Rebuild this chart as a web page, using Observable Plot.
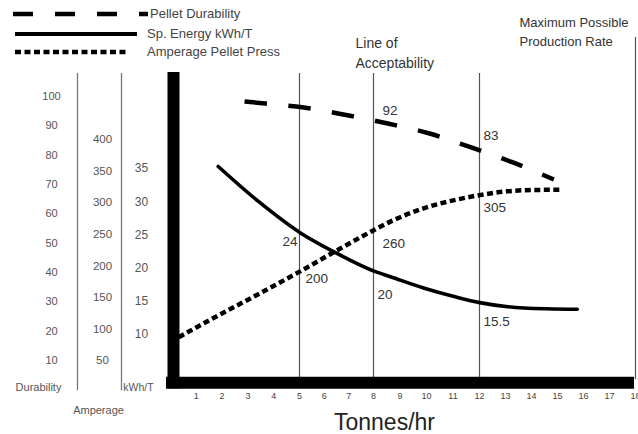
<!DOCTYPE html>
<html><head><meta charset="utf-8">
<script src="https://cdn.jsdelivr.net/npm/d3@7"></script>
<script src="https://cdn.jsdelivr.net/npm/@observablehq/plot@0.6"></script>
<style>
html,body{margin:0;padding:0;background:#fff;}
#wrap{position:relative;width:638px;height:434px;font-family:"Liberation Sans",Arial,sans-serif;}
#legend{position:absolute;left:0;top:0;}
</style></head><body><div id="wrap"><svg id="legend" width="330" height="62"></svg></div>
<script>
// ---- data ----
const seriesNames = ["Pellet Durability", "Sp. Energy kWh/T", "Amperage Pellet Press"];
const durX = [2.87, 3.68, 5.31, 7.0, 8.58, 10.15, 11.66, 13.26, 14.86];
const durY = [98.3, 97.6, 96.1, 93.5, 90.7, 87.3, 82.7, 77.6, 71.7];
const energyX = [1.85, 3.42, 5.04, 6.32, 8.05, 8.64, 9.89, 11.15, 12.01, 13.7, 15.76];
const energyY = [35.3, 30.0, 25.3, 22.6, 19.5, 18.7, 17.0, 15.6, 14.8, 14.0, 13.8];
const ampX = [0.32, 1.74, 3.17, 4.97, 6.32, 8.08, 8.64, 9.89, 11.15, 12.01, 13.06, 14.0, 15.18];
const ampY = [87, 119, 150, 190, 220, 258, 270, 291, 305, 312, 318, 320, 320.5];
const durTicks = [10, 20, 30, 40, 50, 60, 70, 80, 90, 100];
const ampTicks = [50, 100, 150, 200, 250, 300, 350, 400];
const kwhTicks = [10, 15, 20, 25, 30, 35];
const xTicks = [1,2,3,4,5,6,7,8,9,10,11,12,13,14,15,16,17,18];
const refLines = [5, 8, 12];
const maxLine = [18];
const labelText = ["92", "83", "24", "200", "260", "20", "305", "15.5"];
const labelX = [8, 12, 5, 5, 8, 8, 12, 12];
const labelSeries = ["dur", "dur", "kwh", "amp", "amp", "kwh", "amp", "kwh"];

// the three left axes share one vertical scale (durability units)
const ampToY = a => (0.6314 * a - 2.3) / 2.933;
const kwhToY = k => (6.64 * k - 11.1) / 2.933;
const toY = {dur: v => v, amp: ampToY, kwh: kwhToY};

// styles for value labels
const labelStyle = [
  {a: "start", dx: 9, dy: -9.5}, {a: "start", dx: 4, dy: -11}, {a: "end", dx: -2, dy: 0.5},
  {a: "start", dx: 6, dy: 12.7}, {a: "start", dx: 9, dy: 15.6}, {a: "start", dx: 4, dy: 27},
  {a: "start", dx: 4, dy: 8}, {a: "start", dx: 4, dy: 24}
];

const durData = durX.map((x, i) => ({x, y: durY[i]}));
const energyData = energyX.map((x, i) => ({x, y: kwhToY(energyY[i])}));
const ampData = ampX.map((x, i) => ({x, y: ampToY(ampY[i])}));
const labels = labelText.map((t, i) => ({t, x: labelX[i], y: toY[labelSeries[i]](+t), s: labelStyle[i]}));

const FONT = "Liberation Sans, Arial, sans-serif";
const mid = {textAnchor: "middle"};
const marks = [
  // left axis separators
  Plot.ruleX([0], {dx: -93, insetTop: -23, insetBottom: -1, stroke: "#777", strokeWidth: 1.3}),
  Plot.ruleX([0], {dx: -49, insetTop: -23, insetBottom: -1, stroke: "#777", strokeWidth: 1.3}),
  Plot.text(durTicks, {...mid, y: d => d, text: d => String(d), frameAnchor: "left", dx: -119, fontSize: 11, fill: "#555"}),
  Plot.text(ampTicks, {...mid, y: ampToY, text: d => String(d), frameAnchor: "left", dx: -68, fontSize: 11.5, fill: "#555"}),
  Plot.text(kwhTicks, {...mid, y: kwhToY, text: d => String(d), frameAnchor: "left", dx: -29, fontSize: 12, fill: "#555"}),
  Plot.text(["Durability"], {...mid, frameAnchor: "bottom-left", dx: -132, dy: 1, fontSize: 11, fill: "#555"}),
  Plot.text(["kWh/T"], {...mid, frameAnchor: "bottom-left", dx: -32, dy: 1, fontSize: 10.5, fill: "#555"}),
  Plot.text(["Amperage"], {...mid, frameAnchor: "bottom-left", dx: -72, dy: 24, fontSize: 11, fill: "#555"}),
  // reference lines
  Plot.ruleX(refLines, {insetTop: -23, insetBottom: 10, stroke: "#555", strokeWidth: 1.2}),
  Plot.ruleX(maxLine, {insetTop: -59, insetBottom: 10, stroke: "#555", strokeWidth: 1.2}),
  Plot.text(["Line of\nAcceptability"], {x: 8, frameAnchor: "top", textAnchor: "start", dx: -18, dy: -63, lineHeight: 1.45, fontSize: 14, fill: "#333"}),
  Plot.text(["Maximum Possible\nProduction Rate"], {x: 18, frameAnchor: "top", textAnchor: "start", dx: -116, dy: -83.5, lineHeight: 1.5, fontSize: 13, fill: "#333"}),
  // curves
  Plot.line(durData, {x: "x", y: "y", curve: "monotone-x", stroke: "#000", strokeWidth: 4.5, strokeDasharray: "22.5 21.5", strokeLinecap: "butt"}),
  Plot.line(energyData, {x: "x", y: "y", curve: "monotone-x", stroke: "#000", strokeWidth: 3.6}),
  Plot.line(ampData, {x: "x", y: "y", curve: "monotone-x", stroke: "#000", strokeWidth: 4.5, strokeDasharray: "6 3.5", strokeLinecap: "butt"}),
  // value labels
  ...labels.map(l => Plot.text([l], {x: "x", y: "y", text: "t", textAnchor: l.s.a, dx: l.s.dx, dy: l.s.dy, fontSize: 13.5, fill: "#333"})),
  // heavy axis bars
  Plot.ruleX([0], {dx: 3, insetTop: -24, insetBottom: 1, stroke: "#000", strokeWidth: 12}),
  Plot.ruleY([0], {dy: -7, insetLeft: -4, insetRight: 1, stroke: "#000", strokeWidth: 12}),
  // x tick labels and title
  Plot.text(xTicks, {x: d => d, text: d => String(d), frameAnchor: "bottom", dy: 9, fontSize: 9, fill: "#444"}),
  Plot.text(["Tonnes/hr"], {frameAnchor: "bottom", dx: -18.5, dy: 40, fontSize: 23, fill: "#222"})
];

const chart = Plot.plot({
  width: 638, height: 434,
  marginLeft: 170, marginRight: 3, marginTop: 96, marginBottom: 44.7,
  x: {type: "linear", domain: [0, 5, 8, 12, 18], range: [170, 299, 373, 479, 635], axis: null},
  y: {domain: [0, 100], axis: null},
  style: {fontFamily: FONT, background: "white", overflow: "visible"},
  marks
});
const wrap = document.getElementById("wrap");
wrap.insertBefore(chart, wrap.firstChild);

// legend (drawn with d3 from the series names)
const leg = d3.select("#legend");
const legendStyle = [
  {y: 14, x1: 13, x2: 148, tx: 150, w: 4.5, dash: "20 22"},
  {y: 34, x1: 15, x2: 137, tx: 147, w: 4, dash: null},
  {y: 52, x1: 15, x2: 128, tx: 147, w: 4.5, dash: "6 3.5"}
];
seriesNames.forEach((name, i) => {
  const s = legendStyle[i];
  leg.append("line").attr("x1", s.x1).attr("x2", s.x2).attr("y1", s.y).attr("y2", s.y)
    .attr("stroke", "#000").attr("stroke-width", s.w).attr("stroke-dasharray", s.dash);
  leg.append("text").attr("x", s.tx).attr("y", s.y - 1).attr("dy", "0.35em")
    .attr("font-family", FONT).attr("font-size", 13).attr("fill", "#444").text(name);
});
</script>
</body></html>
